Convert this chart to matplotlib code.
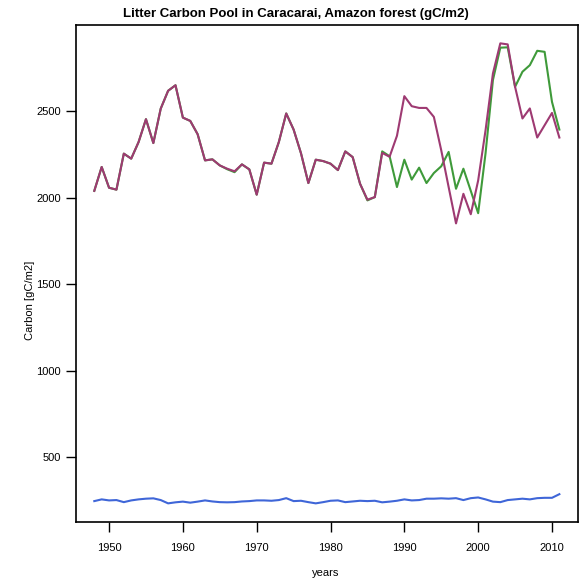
import matplotlib
matplotlib.use("Agg")
import matplotlib.pyplot as plt
import numpy as np

plt.rcParams['font.family'] = ['Liberation Sans', 'DejaVu Sans']

# years of the simulation
years = np.arange(1948, 2012)

# litter carbon, first run (purple)
carbon_a = [2040, 2178, 2058, 2047, 2255, 2226, 2322, 2454, 2316, 2515,
            2618, 2650, 2463, 2444, 2367, 2216, 2222, 2187, 2168, 2153,
            2193, 2164, 2018, 2203, 2197, 2322, 2487, 2394, 2257, 2085,
            2220, 2212, 2197, 2160, 2268, 2235, 2081, 1989, 2004, 2259,
            2237, 2358, 2587, 2529, 2519, 2519, 2467, 2274, 2062, 1852,
            2023, 1905, 2100, 2390, 2718, 2892, 2886, 2641, 2458, 2516,
            2348, 2419, 2490, 2348]

# litter carbon, second run (green)
carbon_b = [2040, 2178, 2058, 2047, 2255, 2226, 2322, 2454, 2316, 2515,
            2618, 2650, 2463, 2444, 2367, 2216, 2222, 2187, 2165, 2148,
            2193, 2164, 2018, 2203, 2197, 2322, 2487, 2394, 2257, 2085,
            2220, 2212, 2197, 2160, 2268, 2235, 2081, 1985, 2004, 2268,
            2240, 2062, 2220, 2105, 2174, 2085, 2143, 2182, 2265, 2052,
            2168, 2040, 1911, 2257, 2680, 2867, 2869, 2641, 2728, 2766,
            2849, 2843, 2554, 2394]

# litter carbon, third run (blue)
carbon_c = [248, 258, 252, 254, 242, 252, 258, 262, 264, 254,
            235, 241, 245, 239, 245, 252, 246, 242, 241, 242,
            246, 248, 252, 252, 250, 254, 265, 248, 250, 242,
            235, 242, 250, 252, 242, 246, 250, 248, 250, 241,
            245, 250, 258, 252, 254, 262, 262, 264, 262, 265,
            254, 265, 269, 258, 245, 242, 254, 258, 262, 258,
            265, 267, 267, 288]

fig = plt.figure(figsize=(5.8, 5.8), dpi=100)
ax = fig.add_axes([0.1305, 0.1005, 0.866, 0.8564])

ax.plot(years, carbon_b, color='#3f9a3a', lw=1.5)
ax.plot(years, carbon_a, color='#9e3a72', lw=1.5)
ax.plot(years, carbon_c, color='#3f66d8', lw=1.5)

ax.set_xlim(1945.48, 2013.52)
ax.set_ylim(129, 2998)
ax.set_xticks([1950, 1960, 1970, 1980, 1990, 2000, 2010])
ax.set_yticks([500, 1000, 1500, 2000, 2500])
ax.tick_params(labelsize=8, length=7, width=1)
ax.tick_params(axis='x', pad=8)
for s in ax.spines.values():
    s.set_linewidth(1.2)

# titles placed on the figure like the R original
fig.text(296 / 580, 1 - 14 / 580,
         'Litter Carbon Pool in Caracarai, Amazon forest (gC/m2)',
         fontsize=9.5, fontweight='bold', ha='center', va='center')
fig.text(326 / 580, 1 - 573 / 580, 'years', fontsize=8,
         ha='center', va='center')
fig.text(30 / 580, 1 - 300 / 580, 'Carbon [gC/m2]', fontsize=8,
         rotation=90, ha='center', va='center')

fig.savefig('out.png', dpi=100)
